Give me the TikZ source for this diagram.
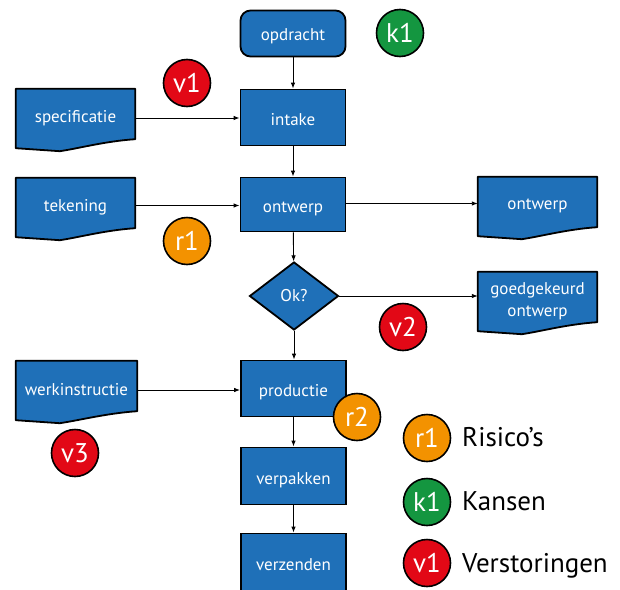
\documentclass[tikz,border=0pt]{standalone}
\usepackage{fontspec}
\setmainfont{PT Sans}
\usetikzlibrary{shapes.geometric,arrows.meta,backgrounds}

\definecolor{boxblauw}{RGB}{31,112,184}
\definecolor{storing}{RGB}{226,8,22}
\definecolor{risico}{RGB}{243,146,0}
\definecolor{kans}{RGB}{20,150,64}

% document shape around a named text node
\newcommand{\docvorm}[1]{%
  \draw [docrand] (#1.north west) -- (#1.north east) -- ([yshift=8pt]#1.south east)
    .. controls ([xshift=-30pt,yshift=6pt]#1.south east) and ([xshift=64pt,yshift=-1pt]#1.south west)
    .. ([xshift=44pt,yshift=-4pt]#1.south west) -- ([yshift=-1pt]#1.south west) -- cycle;}

\begin{document}
\begin{tikzpicture}[x=1pt,y=-1pt]
\tikzstyle{every node}+=[inner sep=0pt]
\tikzstyle{stap}=[draw=black, line width=1.8pt, fill=boxblauw, text=white, minimum width=105pt, minimum height=56pt, text height=16pt, text depth=0pt, font=\fontsize{17}{20}\selectfont]
\tikzstyle{keuze}=[diamond, draw=black, line width=1.8pt, fill=boxblauw, text=white, minimum width=89pt, minimum height=68pt, font=\fontsize{17}{20}\selectfont]
\tikzstyle{doc}=[minimum width=119pt, minimum height=58pt, text=white, font=\fontsize{17}{22}\selectfont, align=center]
\tikzstyle{docrand}=[draw=black, line width=1.8pt, fill=boxblauw, line join=round]
\tikzstyle{merk}=[circle, draw=black, line width=1.6pt, minimum size=47pt, text=white, font=\fontsize{27}{27}\selectfont]
\tikzstyle{legenda}=[anchor=base west, text=black, font=\fontsize{27}{27}\selectfont]
\tikzstyle{pijl}=[-{Latex[length=6pt,width=4.5pt]}, line width=0.9pt]
\useasboundingbox (0,0) rectangle (620,589);
% main flow
\node [stap, rounded corners=10pt, minimum height=46pt, text height=13pt] (opdracht) at (293,33.5) {opdracht};
\node [stap] (intake) at (293,117.5) {intake};
\node [stap, minimum height=54pt] (ontwerp) at (293,204.5) {ontwerp};
\node [keuze] (ok) at (294,296) {Ok?};
\node [stap] (productie) at (293.5,388.5) {productie};
\node [stap, minimum height=57pt] (verpakken) at (293.5,476) {verpakken};
\node [stap, minimum height=57pt] (verzenden) at (293.5,562) {verzenden};
% documents
\node [doc] (specificatie) at (75.5,118) {specificatie};
\node [doc] (tekening) at (75.5,207) {tekening};
\node [doc, minimum width=121pt] (werkinstructie) at (76.5,390) {werkinstructie};
\node [doc] (ontwerpdoc) at (537.5,206) {ontwerp};
\node [doc] (goedgekeurd) at (537.5,301) {goedgekeurd\\ontwerp};
\begin{pgfonlayer}{background}
\foreach \d in {specificatie,tekening,werkinstructie,ontwerpdoc,goedgekeurd}
  {\docvorm{\d}}
\end{pgfonlayer}
% arrows
\draw [pijl] (opdracht) -- (intake);
\draw [pijl] (intake) -- (ontwerp);
\draw [pijl] (ontwerp) -- (ok);
\draw [pijl] (ok.south) -- (ok.south |- productie.north);
\draw [pijl] (productie) -- (verpakken);
\draw [pijl] (verpakken) -- (verzenden);
\draw [pijl] (specificatie.east) -- (specificatie.east -| intake.west);
\draw [pijl] ([yshift=1.5pt]tekening.east) -- ([yshift=1.5pt]tekening.east -| ontwerp.west);
\draw [pijl] ([yshift=1pt]ontwerp.east) -- ([yshift=1pt]ontwerp.east -| ontwerpdoc.west);
\draw [pijl] (ok.east) -- (ok.east -| goedgekeurd.west);
\draw [pijl] (werkinstructie.east) -- (werkinstructie.east -| productie.west);
% markers
\node [merk, fill=kans] (k1) at (400,33) {k1};
\node [merk, fill=storing] (v1) at (187,83) {v1};
\node [merk, fill=risico] (r1) at (187,241) {r1};
\node [merk, fill=storing] (v2) at (403,327) {v2};
\node [merk, fill=risico] (r2) at (357,417) {r2};
\node [merk, fill=storing] (v3) at (75,453) {v3};
% legend
\node [merk, fill=risico] (lr) at (427,438) {r1};
\node [merk, fill=kans] (lk) at (427,502) {k1};
\node [merk, fill=storing] (lv) at (427,563) {v1};
\node [legenda] (lrtekst) at (462,446) {Risico’s};
\node [legenda] (lktekst) at (462,510) {Kansen};
\node [legenda] (lvtekst) at (462,572) {Verstoringen};
\end{tikzpicture}
\end{document}
